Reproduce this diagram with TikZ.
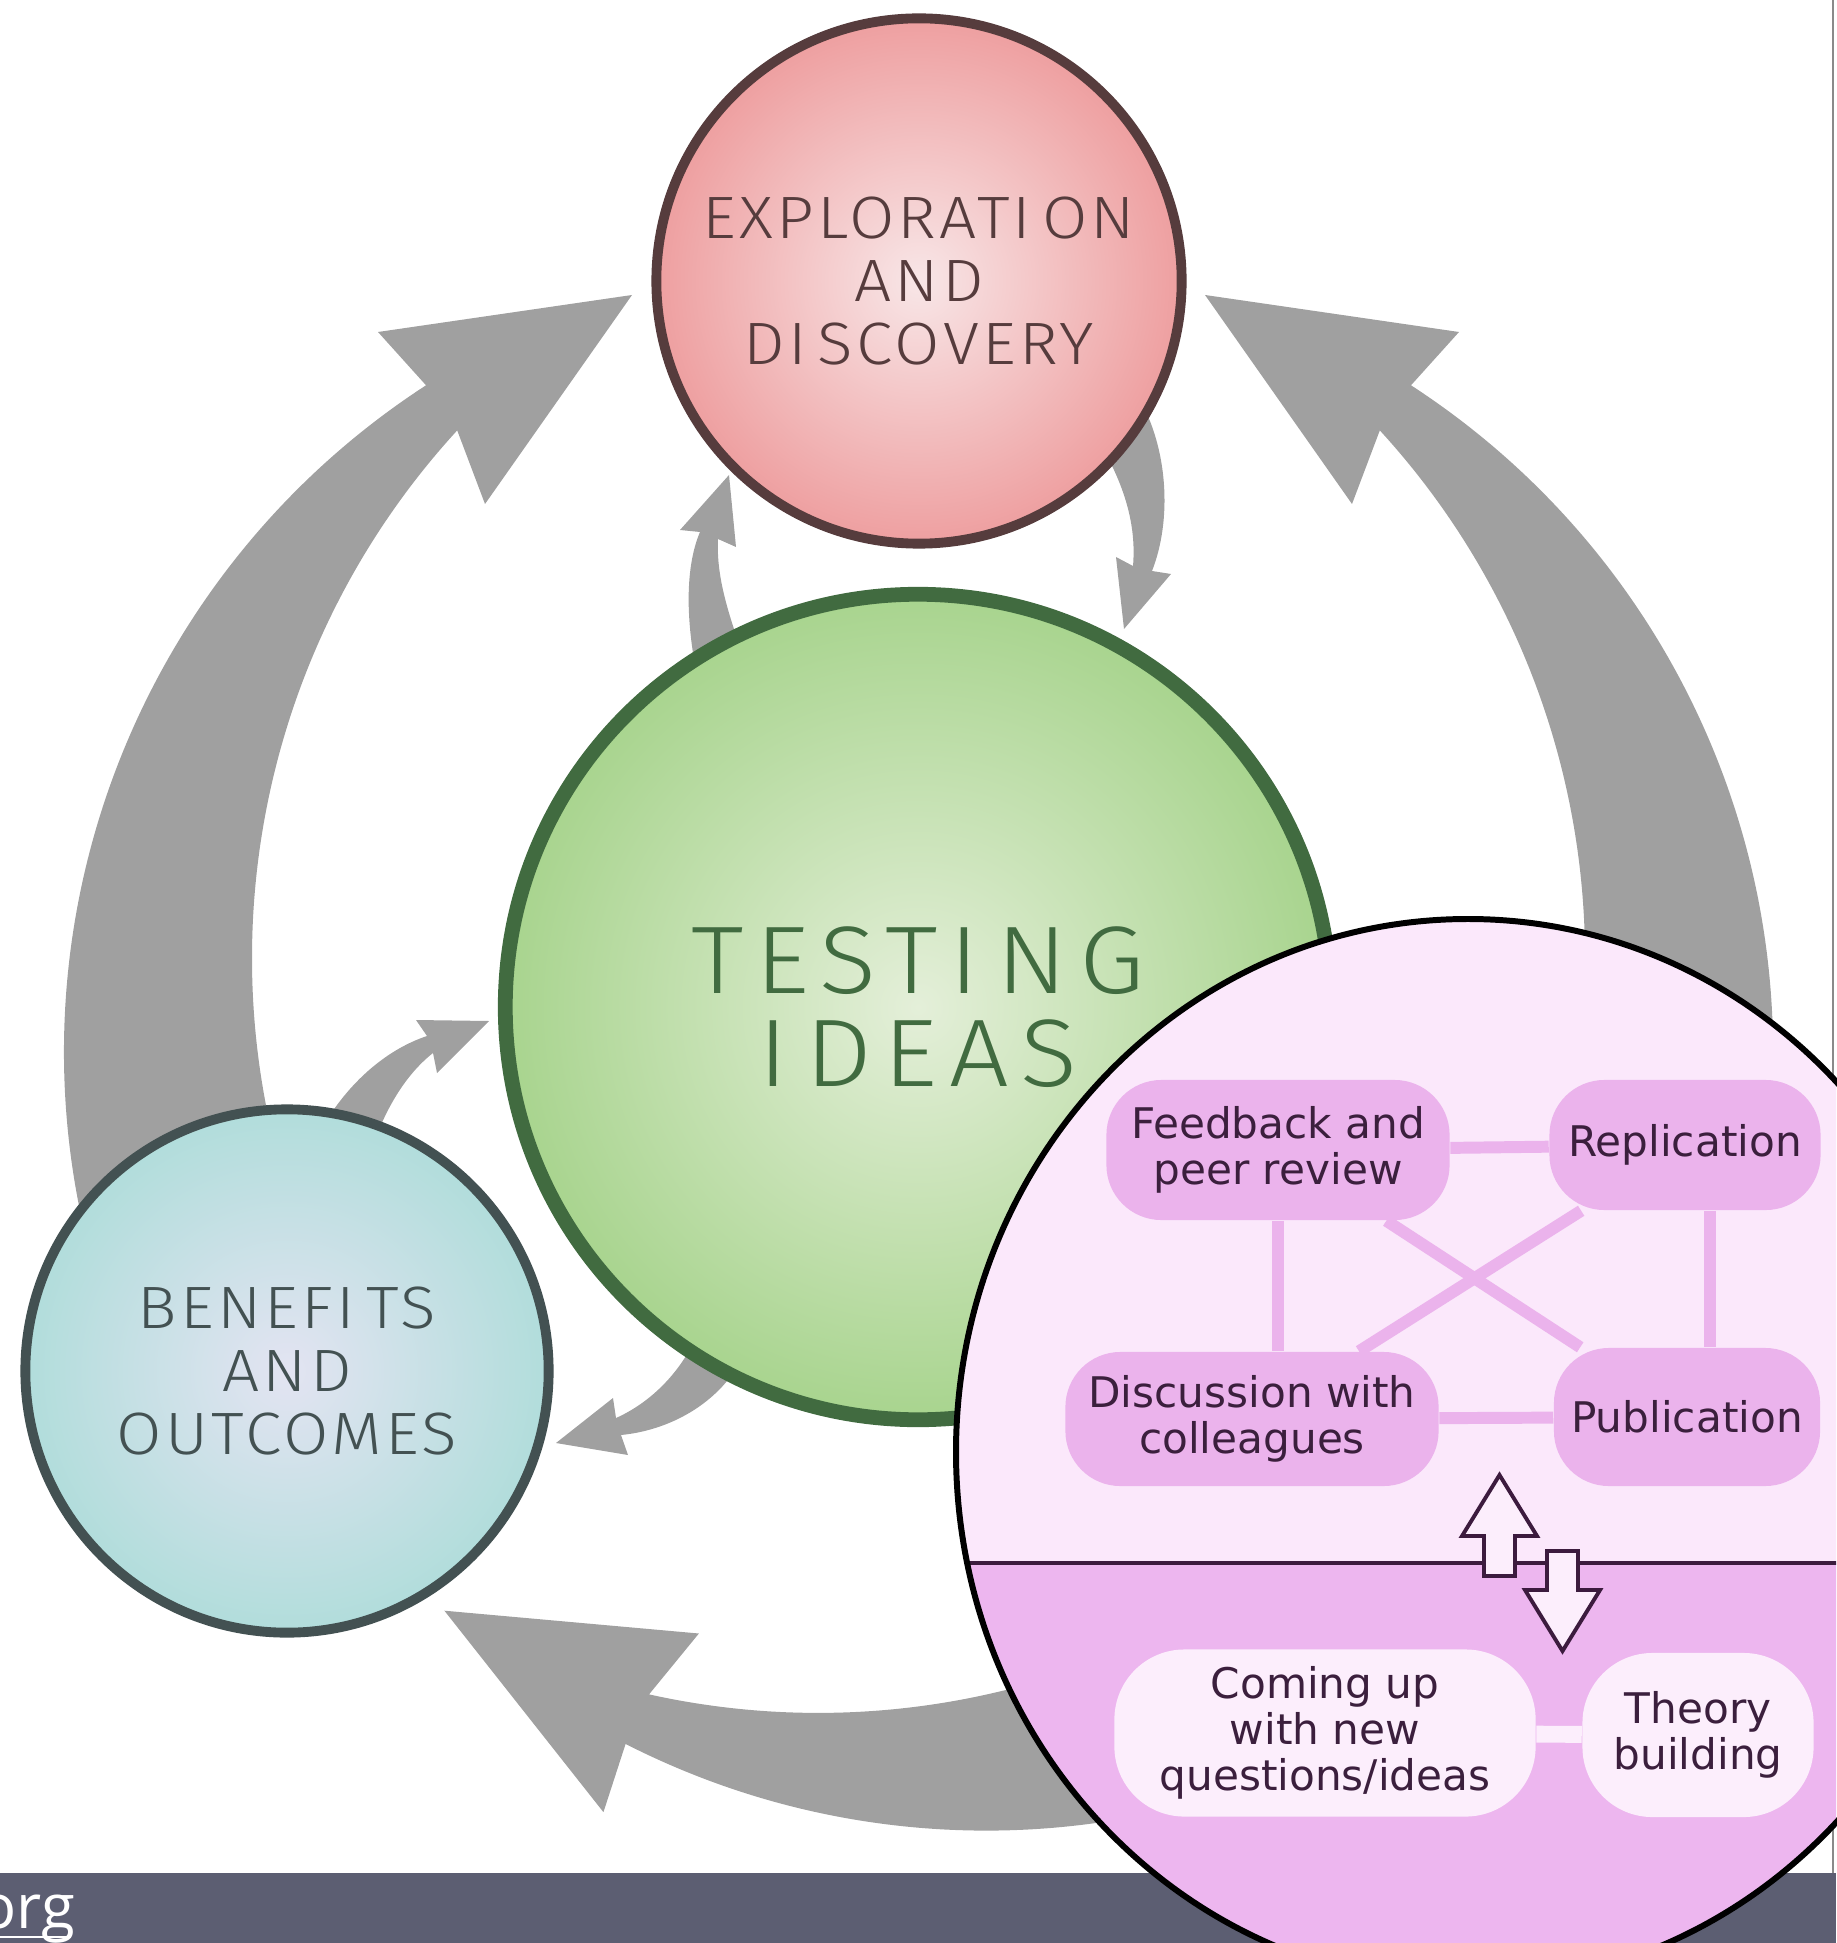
\documentclass[tikz,border=0pt]{standalone}
\usepackage{fontspec}
\usetikzlibrary{shapes.geometric,calc}
\newfontfamily\lblfont{Fira Sans Light}[LetterSpace=5.5, FakeStretch=1.1]
\newfontfamily\biglblfont{Fira Sans Light}[LetterSpace=12, FakeStretch=1.1]
\newfontfamily\insetfont{DejaVu Sans}
\newfontfamily\barfont{Open Sans}
\newcommand{\Ig}{I\kern0.18em}
\definecolor{redline}{HTML}{563C3D}
\definecolor{redin}{HTML}{F8E6E7}
\definecolor{redout}{HTML}{EE9FA0}
\definecolor{greenline}{HTML}{416B40}
\definecolor{greenin}{HTML}{E4EFD9}
\definecolor{greenout}{HTML}{A8D48E}
\definecolor{blueline}{HTML}{435152}
\definecolor{bluein}{HTML}{E3E4F2}
\definecolor{blueout}{HTML}{B1DDDB}
\definecolor{arrowgray}{HTML}{A0A0A0}
\definecolor{edgegray}{HTML}{8A8A8A}
\definecolor{barcol}{HTML}{5C5E72}
\definecolor{insetup}{HTML}{FBE8FB}
\definecolor{insetlow}{HTML}{EDB6EF}
\definecolor{boxpink}{HTML}{EBB3EC}
\definecolor{lightbox}{HTML}{FCEEFC}
\definecolor{insettext}{HTML}{3B1F3D}
\definecolor{insetline}{HTML}{3C1B3E}
\pgfdeclarelayer{back}
\pgfdeclarelayer{mid}
\pgfdeclarelayer{front}
\pgfsetlayers{back,mid,main,front}
\begin{document}
\begin{tikzpicture}[x=0.01cm,y=-0.01cm,
  pbox/.style={rectangle, rounded corners=0.55cm, fill=boxpink, text=insettext,
    font=\insetfont\fontsize{12pt}{13pt}\selectfont, align=center, inner sep=0pt},
  lbox/.style={pbox, fill=lightbox, rounded corners=0.7cm},
  pinkline/.style={draw=boxpink, line width=3.4pt},
  hollow/.style={fill=lightbox, draw=insetline, line width=1.1pt, line join=miter}]
\useasboundingbox (0,0) rectangle (1836,1943);

\begin{pgfonlayer}{back}
\clip (0,0) rectangle (1836,1943);
% thin slide edge
\draw[edgegray, line width=0.6pt] (1833,0) -- (1833,1873);

% big cycle arrows
\newcommand{\bigarrow}{%
  \fill[arrowgray] (91.1,1257.8) arc[start angle=165, end angle=237, radius=795]
    -- (378,332) -- (632,295) -- (485,504)
    -- (457.2,430.4) arc[start angle=222.5, end angle=163, radius=781] -- cycle;}
\bigarrow
\begin{scope}[shift={(1837,0)}, xscale=-1]
  \bigarrow
\end{scope}
\begin{scope}[rotate around={120:(918,1007)}]
  \bigarrow
\end{scope}

% small arrows
\fill[arrowgray] (700,532) .. controls (688,560) and (682,610) .. (700,690)
  -- (752,680) .. controls (730,620) and (716,580) .. (718,539)
  -- (736,547) -- (729,475) -- (680,530) -- cycle;
\fill[arrowgray] (1133,566) .. controls (1136,530) and (1128,490) .. (1098,440)
  -- (1140,400) .. controls (1168,450) and (1172,520) .. (1152,571)
  -- (1171,574) -- (1124,629) -- (1116,557) -- cycle;
\fill[arrowgray] (427,1036) .. controls (385,1050) and (345,1085) .. (318,1135)
  -- (372,1148) .. controls (385,1110) and (405,1075) .. (433,1053)
  -- (437,1073) -- (489,1021) -- (416,1020) -- cycle;
\fill[arrowgray] (616,1418) .. controls (645,1405) and (675,1380) .. (695,1340)
  -- (740,1362) .. controls (718,1402) and (672,1430) .. (621,1435)
  -- (628,1455) -- (556,1443) -- (613,1398) -- cycle;

% main circles
\node[circle, minimum size=5.25cm, inner sep=0pt, line width=2.8pt, draw=redline,
  inner color=redin, outer color=redout, text=redline, align=center,
  font={\lblfont\fontsize{17pt}{17.9pt}\selectfont}] (explore) at (919,281)
  {EXPLORAT\Ig ON\\AND\\D\Ig SCOVERY};
\node[circle, minimum size=8.25cm, inner sep=0pt, line width=4.2pt, draw=greenline,
  inner color=greenin, outer color=greenout, text=greenline, align=center,
  font={\biglblfont\fontsize{27.3pt}{26.5pt}\selectfont}] (testing) at (918,1007)
  {TEST\Ig NG\\\Ig DEAS};
\node[circle, minimum size=5.23cm, inner sep=0pt, line width=2.8pt, draw=blueline,
  inner color=bluein, outer color=blueout, text=blueline, align=center,
  font={\lblfont\fontsize{17pt}{17.9pt}\selectfont}] (benefits) at (287,1371)
  {BENEF\Ig TS\\AND\\OUTCOMES};

% bottom bar
\fill[barcol] (0,1873) rectangle (1836,1943);
\node[anchor=base west, inner sep=0pt, text=white,
  font={\barfont\fontsize{17.5pt}{18pt}\selectfont}] (org) at (-21,1928) {org};
\draw[white, line width=0.6pt] (0,1937) -- (71,1937);

% inset background
\node[ellipse, minimum width=10.24cm, minimum height=10.66cm, inner sep=0pt,
  fill=insetup] (inset) at (1468,1452) {};
\begin{scope}
  \clip (inset.center) ellipse[x radius=512, y radius=533];
  \fill[insetlow] (900,1563) rectangle (2000,2100);
  \draw[insetline, line width=1.2pt] (900,1563) -- (2000,1563);
\end{scope}
\end{pgfonlayer}

% inset boxes
\node[pbox, minimum width=3.43cm, minimum height=1.40cm] (fb) at (1278,1150) {Feedback and\\peer review};
\node[pbox, minimum width=2.71cm, minimum height=1.30cm] (rep) at (1685,1145) {Replication};
\node[pbox, minimum width=3.73cm, minimum height=1.34cm] (disc) at (1252,1419) {Discussion with\\colleagues};
\node[pbox, minimum width=2.66cm, minimum height=1.38cm] (pub) at (1687,1417) {Publication};
\node[lbox, minimum width=4.21cm, minimum height=1.67cm] (come) at (1325,1733) {Coming up\\with new\\questions/ideas};
\node[lbox, minimum width=2.31cm, minimum height=1.64cm] (theory) at (1698,1735) {Theory\\building};

% inset connectors (behind boxes)
\begin{pgfonlayer}{mid}
\draw[pinkline] (fb) -- (rep);
\draw[pinkline] (disc) -- (pub);
\draw[pinkline] (fb.south) -- (fb.south |- disc.north);
\draw[pinkline] ([xshift=0.25cm]rep.south) -- ([xshift=0.25cm]rep.south |- pub.north);
\draw[pinkline] (fb) -- (pub);
\draw[pinkline] (rep) -- (disc);
\draw[draw=lightbox, line width=4.8pt] (come) -- (theory);
\end{pgfonlayer}

% hollow up/down arrows and inset outline
\begin{pgfonlayer}{front}
\draw[hollow] (1484,1576) -- (1484,1536) -- (1462,1536) -- (1499.5,1475)
  -- (1537,1536) -- (1515,1536) -- (1515,1576) -- cycle;
\draw[hollow] (1547,1551) -- (1578,1551) -- (1578,1590) -- (1600,1590)
  -- (1562.5,1651) -- (1525,1590) -- (1547,1590) -- cycle;
\draw[black, line width=1.7pt] (inset.center) ellipse[x radius=512, y radius=533];
\end{pgfonlayer}
\end{tikzpicture}
\end{document}
